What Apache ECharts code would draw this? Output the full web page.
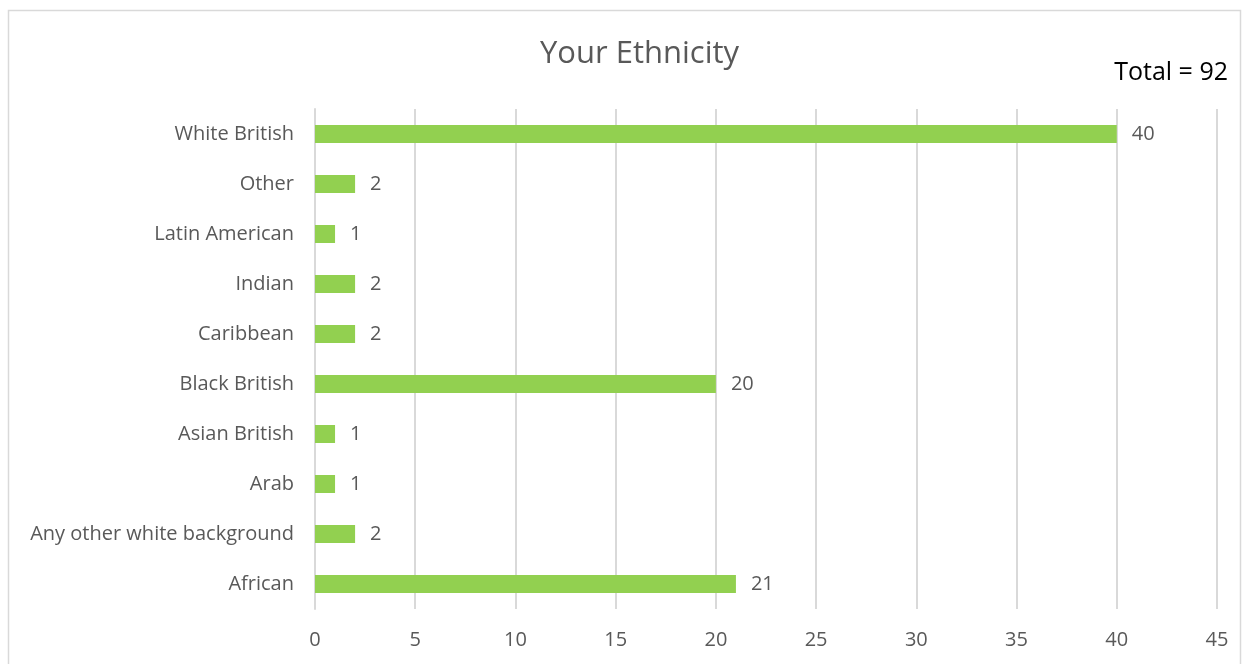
<!DOCTYPE html>
<html>
<head>
<meta charset="utf-8">
<script src="https://cdn.jsdelivr.net/npm/echarts@6/dist/echarts.min.js"></script>
<style>
  html, body { margin: 0; padding: 0; background: #ffffff; }
  #chart { width: 1245px; height: 664px; }
</style>
</head>
<body>
<div id="chart"></div>
<script>
// Survey responses, listed top to bottom
const categories = [
  'White British', 'Other', 'Latin American', 'Indian', 'Caribbean',
  'Black British', 'Asian British', 'Arab', 'Any other white background', 'African'
];
const counts = [40, 2, 1, 2, 2, 20, 1, 1, 2, 21];
const totalText = 'Total = 92';
const xTicks = { min: 0, max: 45, interval: 5 };

const FONT = '"Open Sans", sans-serif';
const LABEL_SIZE = 20;
const chart = echarts.init(document.getElementById('chart'));

chart.setOption({
  animation: false,
  backgroundColor: '#ffffff',
  graphic: [
    {
      type: 'rect',
      shape: { x: 8.5, y: 10.5, width: 1232, height: 670 },
      style: { fill: 'none', stroke: '#d9d9d9', lineWidth: 1.5 },
      silent: true
    },
    {
      type: 'text',
      right: 17,
      top: 60,
      style: { text: totalText, fill: '#000000', font: '25px ' + FONT }
    }
  ],
  title: {
    text: 'Your Ethnicity',
    left: 535,
    top: 34,
    textStyle: { color: '#595959', fontSize: 31, fontWeight: 'normal', fontFamily: FONT }
  },
  grid: { left: 315, right: 28, top: 109, bottom: 55, containLabel: false },
  xAxis: {
    type: 'value',
    min: xTicks.min,
    max: xTicks.max,
    interval: xTicks.interval,
    axisLine: { show: false },
    axisTick: { show: false },
    splitLine: { show: true, lineStyle: { color: '#d9d9d9', width: 2 } },
    axisLabel: { color: '#595959', fontSize: LABEL_SIZE, fontFamily: FONT, margin: 21 }
  },
  yAxis: {
    type: 'category',
    inverse: true,
    data: categories,
    axisLine: { show: true, lineStyle: { color: '#d9d9d9', width: 2 } },
    axisTick: { show: false },
    axisLabel: { color: '#595959', fontSize: LABEL_SIZE, fontFamily: FONT, margin: 21, padding: [2, 0, 0, 0] }
  },
  series: [{
    type: 'bar',
    data: counts,
    barWidth: 18,
    itemStyle: { color: '#92d050' },
    label: {
      show: true,
      position: 'right',
      distance: 15,
      color: '#595959',
      fontSize: LABEL_SIZE,
      fontFamily: FONT,
      padding: [2, 0, 0, 0]
    }
  }]
});
</script>
</body>
</html>
